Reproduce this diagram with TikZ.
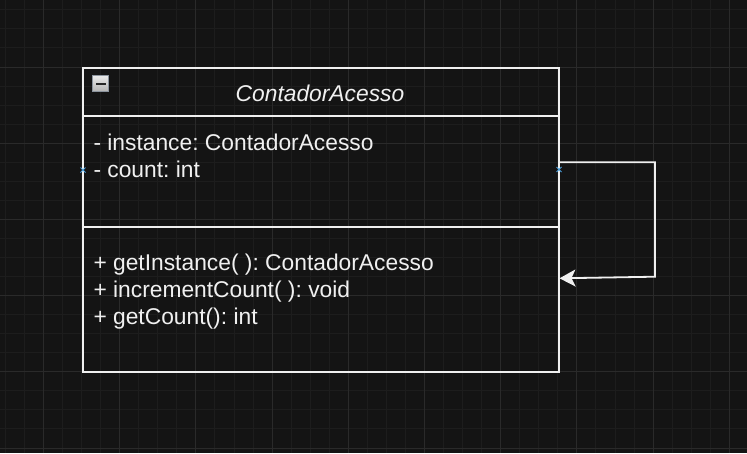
\documentclass[tikz,border=0pt]{standalone}
\usepackage{fontspec}
\setmainfont{Liberation Sans}
\usetikzlibrary{arrows.meta}
\frenchspacing
\definecolor{bg}{HTML}{141414}
\definecolor{gridminor}{HTML}{1D1D1D}
\definecolor{gridmajor}{HTML}{2A2A2A}
\definecolor{ink}{HTML}{F0F0F0}
\definecolor{xblue}{HTML}{4A9FDC}
\definecolor{iconedge}{HTML}{8B939D}
\definecolor{icontop}{HTML}{EAEAEA}
\definecolor{iconbot}{HTML}{B4B4B4}
\tikzset{
  classbox/.style={draw=ink, line width=1.6pt, inner sep=0pt, anchor=north west},
  sepline/.style={draw=ink, line width=1.6pt},
  member/.style={text=ink, anchor=base west, inner sep=0pt, font=\fontsize{22.8}{27}\selectfont\frenchspacing},
  titletext/.style={text=ink, anchor=base, inner sep=0pt, font=\fontsize{22.8}{27}\selectfont\itshape},
  selfarrow/.style={draw=ink, line width=1.8pt, -{Stealth[length=16pt,width=17pt,inset=4pt]}},
  xmark/.style={draw=xblue, line width=0.9pt}
}
\begin{document}
\begin{tikzpicture}[x=1pt,y=-1pt]
\fill[bg] (0,0) rectangle (747,453);
\useasboundingbox (0,0) rectangle (747,453);
% grid
\foreach \i in {0,...,39} {
  \pgfmathsetmacro{\gx}{5.4+19.05*\i}
  \draw[gridminor, line width=1pt] (\gx,0) -- (\gx,453);
}
\foreach \i in {0,...,24} {
  \pgfmathsetmacro{\gy}{9.85+19.05*\i}
  \draw[gridminor, line width=1pt] (0,\gy) -- (747,\gy);
}
\foreach \i in {0,...,9} {
  \pgfmathsetmacro{\gx}{43.5+76.2*\i}
  \draw[gridmajor, line width=1pt] (\gx,0) -- (\gx,453);
}
\foreach \i in {0,...,5} {
  \pgfmathsetmacro{\gy}{67+76.2*\i}
  \draw[gridmajor, line width=1pt] (0,\gy) -- (747,\gy);
}
% class box
\node[classbox, minimum width=476pt, minimum height=304pt] (cls) at (82,67) {};
\draw[sepline] (82,116) -- (558,116);
\draw[sepline] (82,227) -- (558,227);
% collapse icon
\draw[iconedge, line width=1.2pt, top color=icontop, bottom color=iconbot] (92.5,75.5) rectangle (108.5,91.5);
\fill[black!85] (95.5,82.6) rectangle (105.5,84.8);
% texts
\node[titletext] (title) at (320,101) {ContadorAcesso};
\node[member] (a1) at (93.3,150.7) {- instance: ContadorAcesso};
\node[member] (a2) at (93.3,177.5) {- count: int};
\node[member] (m1) at (93.3,270.8) {+ getInstance( ): ContadorAcesso};
\node[member] (m2) at (93.3,297.8) {+ incrementCount( ): void};
\node[member] (m3) at (93.3,324.8) {+ getCount(): int};
% self association
\coordinate (src) at (558,162.3);
\coordinate (bend1) at (655,162.3);
\coordinate (bend2) at (655,276.7);
\coordinate (dst) at (559.5,278.3);
\draw[selfarrow] (src) -- (bend1) -- (bend2) -- (dst);
% connection markers
\coordinate (xl) at (83,170);
\coordinate (xr) at (559,169.5);
\draw[xmark] ([shift={(-2.5,-2.5)}]xl) -- ([shift={(2.5,2.5)}]xl) ([shift={(-2.5,2.5)}]xl) -- ([shift={(2.5,-2.5)}]xl);
\draw[xmark] ([shift={(-2.5,-2.5)}]xr) -- ([shift={(2.5,2.5)}]xr) ([shift={(-2.5,2.5)}]xr) -- ([shift={(2.5,-2.5)}]xr);
\end{tikzpicture}
\end{document}
